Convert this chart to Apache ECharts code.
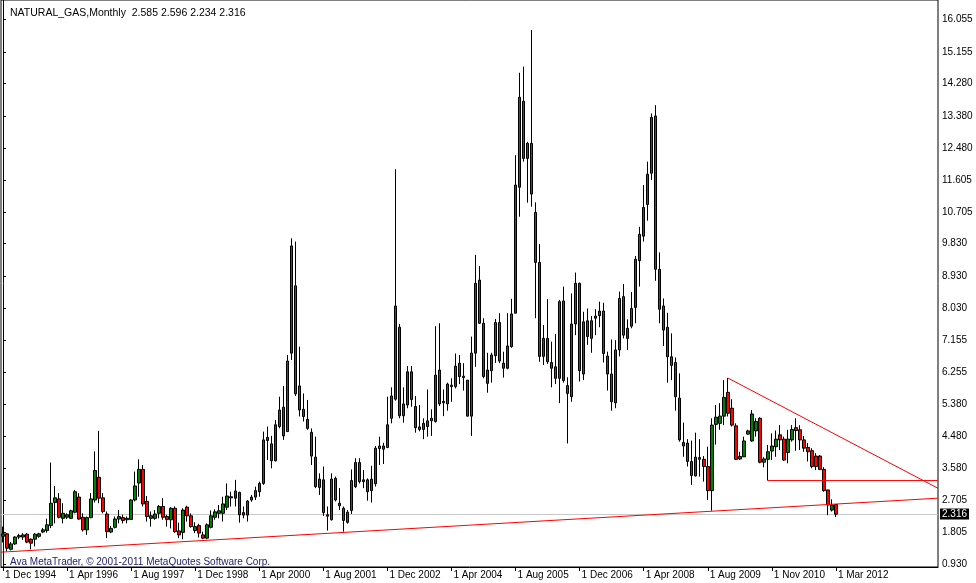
<!DOCTYPE html>
<html><head><meta charset="utf-8">
<script src="https://cdn.jsdelivr.net/npm/echarts@6/dist/echarts.min.js"></script>
<style>html,body{margin:0;padding:0;background:#fff}#c{width:976px;height:583px}</style>
</head><body><div id="c"></div>
<script>
const symbol = 'NATURAL_GAS';
const period = 'Monthly';
const copyrightText = 'Ava MetaTrader, \u00a9 2001-2011 MetaQuotes Software Corp.';
const xTickLabels = ['1 Dec 1994','1 Apr 1996','1 Aug 1997','1 Dec 1998','1 Apr 2000','1 Aug 2001','1 Dec 2002','1 Apr 2004','1 Aug 2005','1 Dec 2006','1 Apr 2008','1 Aug 2009','1 Nov 2010','1 Mar 2012'];
const yTickValues = [0.930,1.805,2.705,3.580,4.480,5.380,6.255,7.155,8.030,8.930,9.830,10.705,11.605,12.480,13.380,14.280,15.155,16.055];

const opens = [1.70,1.77,1.34,1.49,1.68,1.68,1.76,1.62,1.62,1.70,1.82,1.86,2.00,2.64,2.74,2.20,2.23,2.20,2.37,2.79,
2.23,1.88,2.22,2.71,3.34,2.77,2.32,1.82,1.95,2.18,2.22,2.16,2.17,2.71,3.18,3.56,2.67,2.20,2.20,2.34,
2.53,2.25,2.16,2.48,1.85,1.81,2.51,2.27,1.86,2.00,1.74,1.65,1.95,2.23,2.34,2.34,2.51,2.77,2.76,2.92,
2.36,2.29,2.71,2.79,2.94,3.17,4.36,4.27,3.80,4.75,5.29,4.61,6.79,8.66,5.88,5.23,4.95,4.59,3.90,3.06,
3.27,2.30,2.16,3.31,2.62,2.48,2.09,2.42,3.08,3.75,3.27,3.27,2.97,3.16,4.14,4.12,4.17,4.98,5.51,7.51,
5.05,5.35,6.27,5.31,4.74,4.67,4.75,4.91,4.89,6.32,5.45,5.38,5.86,5.86,6.51,6.15,6.04,5.04,6.79,8.82,
7.62,5.95,6.30,6.72,7.64,6.51,6.37,6.97,7.90,11.40,13.79,12.20,12.62,10.70,9.31,6.70,7.20,6.53,6.41,6.09,
8.24,5.89,5.58,7.60,8.73,6.21,7.69,7.20,7.76,7.83,7.96,6.71,6.21,5.41,6.88,8.36,7.20,7.54,8.06,9.36,
10.04,10.92,11.79,13.38,9.12,8.10,7.51,6.69,6.53,5.54,4.31,4.29,3.78,3.38,3.89,3.84,3.64,2.97,4.81,4.84,
5.04,5.70,5.26,4.77,3.85,3.91,4.54,4.35,4.63,4.98,3.76,3.84,4.07,4.19,4.52,4.40,4.03,4.38,4.72,4.66,
4.38,4.17,4.08,3.93,3.93,3.56,2.99,2.43,2.585];
const closes = [1.77,1.37,1.49,1.68,1.72,1.74,1.54,1.51,1.76,1.77,1.88,2.02,2.62,2.77,2.23,2.34,2.30,2.41,2.94,2.18,
1.88,2.22,2.74,3.53,2.76,2.39,1.83,1.92,2.18,2.25,2.14,2.20,2.71,3.10,3.56,2.60,2.25,2.27,2.32,2.53,
2.23,2.17,2.48,1.83,1.74,2.43,2.27,1.97,1.97,1.79,1.65,2.02,2.27,2.38,2.41,2.60,2.82,2.80,2.96,2.30,
2.29,2.68,2.79,2.97,3.17,4.38,4.45,3.80,4.80,5.21,4.49,6.57,9.77,5.66,5.21,5.03,4.70,3.93,3.08,3.29,
2.36,2.26,3.29,2.71,2.55,2.14,2.37,3.25,3.75,3.22,3.22,2.94,3.29,4.15,4.21,4.21,4.80,5.60,8.10,5.05,
5.38,6.27,5.50,4.72,4.67,4.84,4.91,4.98,6.18,5.38,5.41,5.93,5.90,6.43,6.14,6.11,5.04,6.79,8.73,7.62,
6.14,6.32,6.74,7.64,6.57,6.37,6.99,7.88,11.46,13.90,12.20,12.62,11.21,9.31,6.70,7.20,6.55,6.37,6.09,8.22,
6.03,5.67,7.60,8.73,6.30,7.66,7.25,7.69,7.82,7.96,6.78,6.21,5.44,6.88,8.31,7.29,7.48,8.03,9.40,10.09,
10.84,11.76,13.34,9.12,8.01,7.43,6.69,6.45,5.58,4.38,4.21,3.78,3.39,3.90,3.84,3.64,2.97,4.79,5.01,5.04,
5.56,5.12,4.79,3.84,3.92,4.35,4.63,5.10,4.89,3.76,3.85,4.05,4.21,4.40,4.38,3.82,4.40,4.67,4.64,4.38,
4.15,4.05,3.64,3.64,3.56,2.97,2.57,2.57,2.316];
const lows = [1.53,1.28,1.31,1.46,1.62,1.60,1.51,1.34,1.42,1.66,1.79,1.80,1.93,2.06,2.20,2.06,2.18,2.18,2.34,2.16,
1.83,1.74,2.20,2.64,2.62,2.34,1.65,1.79,1.92,2.06,2.06,2.06,2.16,2.67,2.80,2.53,2.11,1.97,2.16,2.20,
2.16,1.97,1.92,1.80,1.65,1.62,2.11,1.94,1.79,1.67,1.62,1.62,1.92,2.16,2.20,2.11,2.43,2.53,2.53,2.08,
2.20,2.11,2.66,2.71,2.80,3.13,3.82,3.59,3.78,4.70,4.38,4.61,6.60,5.60,5.03,4.89,4.66,3.68,3.04,2.85,
2.27,1.86,2.14,2.67,2.43,1.83,2.05,2.32,3.04,3.17,3.04,2.69,2.64,3.08,3.68,3.71,4.15,4.84,5.47,4.98,
4.86,5.26,5.30,4.58,4.62,4.40,4.47,4.49,4.86,5.32,5.04,5.19,5.44,5.81,5.93,5.75,5.03,4.49,6.41,7.60,
6.09,5.69,5.97,6.52,6.51,6.11,6.34,6.94,7.90,10.58,12.11,10.97,10.86,7.76,6.55,6.46,6.49,5.84,5.93,5.40,
5.97,4.28,5.44,7.29,6.00,6.04,7.02,6.80,7.29,7.51,6.53,5.75,5.19,5.26,6.70,7.20,6.88,7.48,7.62,8.64,
9.89,10.47,11.60,8.80,7.62,6.99,5.97,6.04,5.19,4.33,3.91,3.64,3.13,3.36,3.36,3.22,2.71,2.41,4.25,4.66,
4.79,5.03,4.75,3.82,3.82,3.90,4.52,4.33,4.47,3.73,3.62,3.25,3.82,3.91,4.10,3.80,3.73,4.33,4.08,4.10,
4.05,3.78,3.59,3.54,3.54,2.94,2.29,2.39,2.234];
const highs = [1.97,1.79,1.54,1.70,1.77,1.79,1.79,1.64,1.79,1.80,1.93,2.19,3.75,3.10,2.90,2.62,2.34,2.44,2.99,2.90,
2.34,2.25,2.90,4.06,4.63,2.90,2.39,1.99,2.25,2.43,2.30,2.25,2.73,3.50,3.84,3.68,2.82,2.39,2.43,2.57,
2.76,2.30,2.51,2.53,2.08,2.48,2.55,2.34,2.09,2.05,1.83,2.06,2.42,2.45,2.57,2.80,3.17,2.94,3.27,2.94,
2.53,2.71,2.85,3.08,3.22,4.61,4.75,4.49,4.93,5.58,5.88,6.74,9.98,9.89,6.97,5.67,5.49,4.70,4.47,3.45,
3.64,2.53,3.45,3.36,3.04,2.53,2.43,3.56,3.87,3.87,3.54,3.31,3.66,4.21,4.47,4.30,5.58,5.84,11.90,7.60,
5.84,6.43,6.43,5.60,5.35,4.98,5.78,5.23,7.54,7.62,5.78,5.97,6.09,6.78,6.74,6.51,6.04,7.25,9.52,9.21,
7.76,6.80,6.80,7.74,7.90,6.83,7.90,8.30,12.29,14.58,14.75,12.66,15.77,10.98,9.82,7.57,8.29,7.11,7.32,8.27,
8.64,6.12,8.45,9.03,8.75,7.94,8.03,7.82,8.01,8.22,8.19,6.83,7.17,7.15,8.50,8.71,7.73,8.49,9.49,10.30,
11.46,12.11,13.45,13.68,9.59,8.31,7.91,7.34,6.67,6.23,4.86,4.40,4.36,4.58,4.40,3.93,4.19,4.98,5.35,5.40,
6.04,6.10,5.51,4.84,4.05,4.47,4.66,5.21,4.98,5.01,3.90,4.24,4.56,4.64,4.79,4.47,4.66,4.79,4.98,4.79,
4.49,4.29,4.15,4.01,3.96,3.62,2.99,2.73,2.596];

const supportLine = [[-0.5, 1.26], [233.5, 2.76]];
const resistanceLine = [[181, 6.10], [233.5, 3.035]];
const levelLine = [[191, 3.25], [233.5, 3.25]];
const bidPrice = 2.316;

const SLOTS = 234, LABEL_EVERY = 16;
const FONT = 'Liberation Sans';
const categories = Array.from({length: SLOTS}, (_, i) => 'b' + i);
const isLabelIdx = (idx) => idx % LABEL_EVERY === 0 && idx / LABEL_EVERY < xTickLabels.length;
const candleData = opens.map((o, i) => [o, closes[i], lows[i], highs[i]]);
const last = opens.length - 1;
const headerText = symbol + ',' + period + '  ' + opens[last].toFixed(3) + ' ' + highs[last].toFixed(3) + ' ' + lows[last].toFixed(3) + ' ' + closes[last].toFixed(3);

const chart = echarts.init(document.getElementById('c'), null, {renderer: 'canvas'});
const redLine = (data) => ({
  type: 'line', xAxisIndex: 1, yAxisIndex: 0, data: data, symbol: 'none', silent: true,
  lineStyle: {color: '#ff0000', width: 1}, z: 5
});
chart.setOption({
  animation: false,
  backgroundColor: '#ffffff',
  title: [
    {text: headerText, left: 5, top: 3, textStyle: {fontSize: 10.5, fontWeight: 'normal', color: '#000', fontFamily: FONT}},
    {text: copyrightText, left: 5, top: 552, textStyle: {fontSize: 10, fontWeight: 'normal', color: '#1c1c6c', fontFamily: FONT}}
  ],
  grid: {left: 1, right: 38, top: 0, bottom: 16, show: true, borderColor: '#000', borderWidth: 1, backgroundColor: '#fff'},
  xAxis: [
    {
      type: 'category', data: categories, boundaryGap: true,
      axisLine: {show: true, lineStyle: {color: '#000', width: 1}},
      axisTick: {show: true, alignWithLabel: true, interval: (idx) => isLabelIdx(idx), length: 4, lineStyle: {color: '#000'}},
      axisLabel: {interval: (idx) => isLabelIdx(idx), formatter: (v, idx) => xTickLabels[idx / LABEL_EVERY] || '',
        align: 'left', margin: 3, fontSize: 10, color: '#000', fontFamily: FONT, padding: [0, 0, 0, 2]},
      splitLine: {show: false}
    },
    {type: 'value', min: -0.5, max: SLOTS - 0.5, show: false}
  ],
  yAxis: {
    type: 'value', position: 'right', min: 0.848, max: 16.602, scale: true,
    axisLine: {show: true, lineStyle: {color: '#000', width: 1}},
    axisTick: {show: true, customValues: yTickValues, length: 3, lineStyle: {color: '#000'}},
    axisLabel: {customValues: yTickValues, formatter: (v) => Number(v).toFixed(3), margin: 4, fontSize: 10, color: '#000', fontFamily: FONT},
    splitLine: {show: false}
  },
  series: [
    {
      type: 'candlestick', xAxisIndex: 0, yAxisIndex: 0, data: candleData, barWidth: 3, z: 3,
      itemStyle: {color: '#008000', color0: '#ff0000', borderColor: '#000', borderColor0: '#000', borderWidth: 1},
      markLine: {
        silent: true, symbol: ['none', 'none'], z: 1,
        lineStyle: {color: '#c8c8c8', type: 'solid', width: 1},
        label: {show: true, position: 'end', distance: 2, formatter: bidPrice.toFixed(3), backgroundColor: '#000', color: '#fff',
          padding: [1, 2, 0, 2], fontSize: 10, fontFamily: FONT},
        data: [{yAxis: bidPrice}]
      }
    },
    redLine(supportLine),
    redLine(resistanceLine),
    redLine(levelLine)
  ]
});
</script>
</body></html>
